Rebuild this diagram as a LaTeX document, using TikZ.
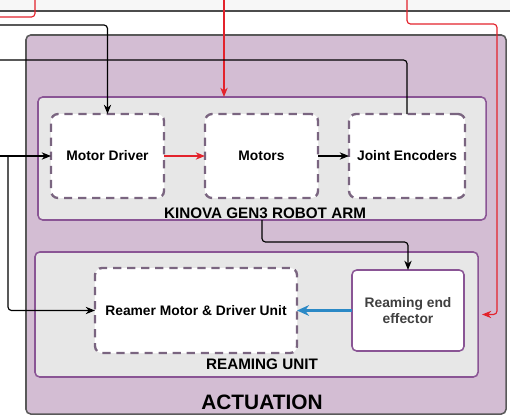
\documentclass[tikz,border=0pt]{standalone}
\usepackage{fontspec}
\setmainfont{Liberation Sans}
\usetikzlibrary{arrows.meta, positioning}

\definecolor{actfill}{HTML}{D3BDD3}
\definecolor{boxgray}{HTML}{E7E7E7}
\definecolor{plum}{HTML}{8A5595}
\definecolor{dashplum}{HTML}{7A6580}
\definecolor{sigred}{HTML}{E3232C}
\definecolor{sigblue}{HTML}{2B89C6}

\begin{document}
\begin{tikzpicture}[x=0.03cm, y=-0.03cm,
        act/.style={rectangle, draw=black!65, line width=1.3pt, rounded corners=4pt,
                    fill=actfill, outer sep=0pt},
        grp/.style={rectangle, draw=plum, line width=1.3pt, rounded corners=4pt,
                    fill=boxgray, outer sep=0pt},
        unit/.style={rectangle, draw=dashplum, line width=2pt, dash pattern=on 7pt off 5pt,
                     rounded corners=6pt, fill=white, minimum height=2.52cm, outer sep=0pt,
                     font=\fontsize{11.8}{14}\selectfont\bfseries, align=center},
        lbl/.style={font=\fontsize{13}{15}\selectfont\bfseries, inner sep=0pt},
        arr/.style={-{Stealth[length=2.8mm,width=2.2mm]}, line width=1pt, black},
        redarr/.style={-{Stealth[length=2.8mm,width=2.2mm]}, line width=1pt, sigred},
        node distance=1.23cm]
      % frame and outer edge
      \useasboundingbox (0,0) rectangle (510,417);
      \fill[gray!6] (0,0) rectangle (510,11);
      \draw[black!70, line width=1.2pt] (0,11) -- (510,11);

      % containers
      \node[act, minimum width=14.4cm, minimum height=11.37cm] (act) at (266,224.5) {};
      \node[grp, minimum width=13.44cm, minimum height=3.69cm] (arm) at (262,158.5) {};
      \node[grp, minimum width=13.29cm, minimum height=3.75cm] (ru) at (256.5,314.5) {};

      % robot arm units
      \node[unit, minimum width=3.39cm] (md) at (107.5,156) {Motor Driver};
      \node[unit, minimum width=3.39cm, right=of md] (mot) {Motors};
      \node[unit, minimum width=3.48cm, right=0.93cm of mot] (je) {Joint Encoders};
      \node[lbl] at (265,213) {KINOVA GEN3 ROBOT ARM};

      % reaming units
      \node[unit, minimum width=6.06cm, minimum height=2.55cm] (rm) at (196,310.5) {Reamer Motor \& Driver Unit};
      \node[unit, draw=plum, line width=1.3pt, solid, rounded corners=4pt, text=black!75,
            minimum width=3.36cm, minimum height=2.43cm] (ee) at (408,310.5) {Reaming end\\effector};
      \node[lbl] at (262,364) {REAMING UNIT};
      \node[font=\fontsize{17.8}{20}\selectfont\bfseries, inner sep=0pt] at (262,402) {ACTUATION};

      % incoming and outgoing ends
      \coordinate (rout) at (0,17);
      \coordinate (rin1) at (35,0);
      \coordinate (rin2) at (224,0);
      \coordinate (rin3) at (407,0);
      \coordinate (rtap) at (497,24);
      \coordinate (cmd) at (0,25);
      \coordinate (fb) at (0,60);
      \coordinate (din) at (0,156);
      \coordinate (split) at (8,156);

      % connectors
      \draw[sigred, line width=1pt, rounded corners=3pt] (rin1) |- (rout);
      \draw[redarr] (rin2) -- (rin2 |- arm.north);
      \draw[redarr, rounded corners=3pt] (rin3) |- (rtap) |- ([xshift=0.12cm]ru.east);
      \draw[arr, rounded corners=3pt] (cmd) -| (md.north);
      \draw[line width=1pt, black, rounded corners=3pt] (je.north) |- (fb);
      \draw[arr] (din) -- (md.west);
      \draw[arr, rounded corners=3pt] (split) |- (rm.west);
      \draw[redarr] (md) -- (mot);
      \draw[arr] (mot) -- (je);
      \draw[arr, rounded corners=3pt] (arm.south) -- ++(0,22) -| (ee.north);
      \draw[-{Stealth[length=3.6mm,width=3.2mm]}, line width=2.4pt, sigblue] (ee) -- (rm);
    \end{tikzpicture}
\end{document}
